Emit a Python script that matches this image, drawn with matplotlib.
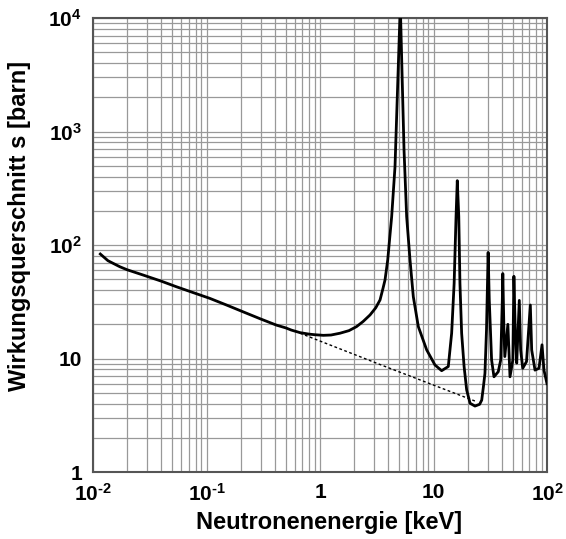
import matplotlib
matplotlib.use("Agg")
import matplotlib.pyplot as plt
from matplotlib.ticker import FixedLocator, LogLocator, NullFormatter

plt.rcParams['font.family'] = ['Liberation Sans', 'DejaVu Sans']
plt.rcParams['font.weight'] = 'bold'
plt.rcParams['mathtext.fontset'] = 'custom'
plt.rcParams['mathtext.rm'] = 'Liberation Sans:bold'
plt.rcParams['mathtext.it'] = 'Liberation Sans:bold'
plt.rcParams['mathtext.bf'] = 'Liberation Sans:bold'

# Cross section curve (energy in keV, sigma in barn)
energy = [0.0116, 0.01355, 0.0172, 0.02, 0.0276, 0.04, 0.0542, 0.075, 0.1067, 0.15,
          0.2097, 0.3, 0.412, 0.5, 0.559, 0.667, 0.8, 0.9, 1.07, 1.25,
          1.5, 1.8, 2.1, 2.4, 2.76, 3.1, 3.38, 3.6, 3.74, 3.95,
          4.28, 4.58, 4.84, 5.1, 5.31, 5.5, 5.8, 6.21, 6.64, 7.35,
          8.71, 10.3, 11.8, 13.5, 14.45, 15.2, 15.8, 16.2, 16.7, 17.1,
          17.7, 18.6, 19.6, 21.0, 23.2, 25.5, 26.6, 27.5, 28.4, 29.3,
          30.3, 31.0, 32.5, 34.1, 37.2, 39.1, 40.4, 40.8, 41.8, 42.5,
          45.2, 47.2, 50.0, 51.1, 52.6, 54.1, 57.0, 58.6, 61.1, 66.0,
          71.3, 73.3, 78.4, 85.0, 90.4, 94.0, 100.0]
sigma = [83.3, 72.7, 64.4, 60.5, 54.4, 48.0, 42.9, 38.3, 33.9, 29.6,
         25.8, 22.3, 19.7, 18.6, 17.8, 16.9, 16.4, 16.2, 16.0, 16.1,
         16.7, 17.6, 19.1, 21.2, 24.2, 28.0, 32.8, 42.0, 49.2, 73.8,
         178.0, 490.0, 2660.0, 13000.0, 2660.0, 687.0, 178.0, 73.8, 35.0, 19.1,
         11.9, 8.77, 7.81, 8.5, 16.7, 45.9, 178.0, 369.0, 178.0, 45.9,
         16.7, 8.5, 5.28, 4.03, 3.81, 3.95, 4.3, 5.6, 7.4, 17.8,
         86.0, 32.8, 9.7, 6.9, 7.65, 9.7, 32.8, 56.0, 16.7, 10.4,
         20.0, 6.9, 9.7, 53.0, 16.7, 9.1, 32.5, 11.9, 8.2, 9.4,
         29.6, 11.9, 7.9, 8.2, 13.2, 7.9, 6.0]

# 1/v extrapolation (dashed)
energy_1v = [0.667, 3.38, 23.5]
sigma_1v = [16.7, 8.85, 4.2]

xticks = [1e-2, 1e-1, 1, 10, 1e2]
xticklabels = [r'$10^{\text{-2}}$', r'$10^{\text{-1}}$', '1', '10', r'$10^{2}$']
yticks = [1, 10, 1e2, 1e3, 1e4]
yticklabels = ['1', '10', r'$10^{2}$', r'$10^{3}$', r'$10^{4}$']

fig = plt.figure(figsize=(5.66, 5.39), dpi=100)
ax = fig.add_axes([93/566, 1-472/539, 454/566, 454/539])
ax.set_xscale('log')
ax.set_yscale('log')
ax.set_xlim(1e-2, 1e2)
ax.set_ylim(1, 1e4)

ax.plot(energy_1v, sigma_1v, color='black', linestyle=(0, (2.0, 1.8)), linewidth=1.0, zorder=3)
ax.plot(energy, sigma, color='black', linewidth=2.0, solid_joinstyle='round', zorder=4)

ax.xaxis.set_major_locator(FixedLocator(xticks))
ax.yaxis.set_major_locator(FixedLocator(yticks))
ax.xaxis.set_minor_locator(LogLocator(base=10, subs=range(2, 10), numticks=20))
ax.yaxis.set_minor_locator(LogLocator(base=10, subs=range(2, 10), numticks=20))
ax.xaxis.set_minor_formatter(NullFormatter())
ax.yaxis.set_minor_formatter(NullFormatter())
ax.set_xticklabels(xticklabels)
ax.set_yticklabels(yticklabels)

ax.grid(True, which='both', color='#999999', linewidth=0.9)
ax.tick_params(which='both', length=0, labelsize=15, pad=8)
for lab in ax.get_xticklabels() + ax.get_yticklabels():
    lab.set_fontweight('bold')
for s in ax.spines.values():
    s.set_color('#555555')
    s.set_linewidth(1.5)

ax.set_xlabel('Neutronenenergie [keV]', fontsize=17, fontweight='bold')
ax.set_ylabel('Wirkungsquerschnitt s [barn]', fontsize=17, fontweight='bold')
ax.xaxis.set_label_coords((329 - 93) / 454, -(511 - 472) / 454)
ax.yaxis.set_label_coords(-(93 - 31) / 454, (472 - 226) / 454)

fig.savefig('out.png', dpi=100)
